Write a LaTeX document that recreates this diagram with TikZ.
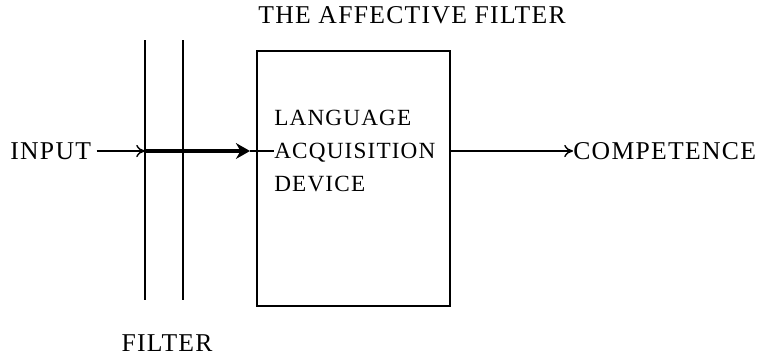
\documentclass[tikz,border=0pt]{standalone}
\usepackage{fontspec}
\setmainfont[LetterSpace=5]{Liberation Serif}
\usepackage{tikz}
\usetikzlibrary{arrows.meta, positioning, calc}

\begin{document}
\begin{tikzpicture}[x=0.02cm, y=-0.02cm,
  txt/.style={inner sep=0pt, font=\fontsize{14.6}{18.7}\selectfont},
  filterline/.style={line width=1.4pt},
  openhead/.style={-{To[length=5pt,width=7pt,line width=0.8pt]}}]
\useasboundingbox (0,0) rectangle (763,356);
% the box and the filter
\node[txt] (title) at (412,15) {THE AFFECTIVE FILTER};
\draw[line width=1.1pt] (257,51) rectangle (450,306);
\coordinate (boxw) at (257,151);
\coordinate (boxe) at (450,151);
\draw[filterline] (145,40) -- (145,300) (183,40) -- (183,300);
\coordinate (f1) at (145,151);
\node[txt] (filt) at (167,343) {FILTER};
\node[txt, anchor=west, align=left, font=\fontsize{13.2}{18.7}\selectfont]
  (lad) at (274,151) {LANGUAGE\\ACQUISITION\\DEVICE};
% input side
\node[txt, anchor=west] (inp) at (10,151) {INPUT};
\draw[openhead, line width=1pt] ([xshift=3pt]inp.east) -- (f1);
\coordinate (adin) at (250,151);
\draw[line width=1.8pt, -{Stealth[length=8pt,width=9pt]}] (f1) -- (adin);
\draw[line width=0.8pt] (adin) -- (lad.west);
% output side
\node[txt, anchor=west] (comp) at (573,151) {COMPETENCE};
\draw[line width=0.9pt, openhead] (boxe) -- (comp.west);
\end{tikzpicture}
\end{document}
